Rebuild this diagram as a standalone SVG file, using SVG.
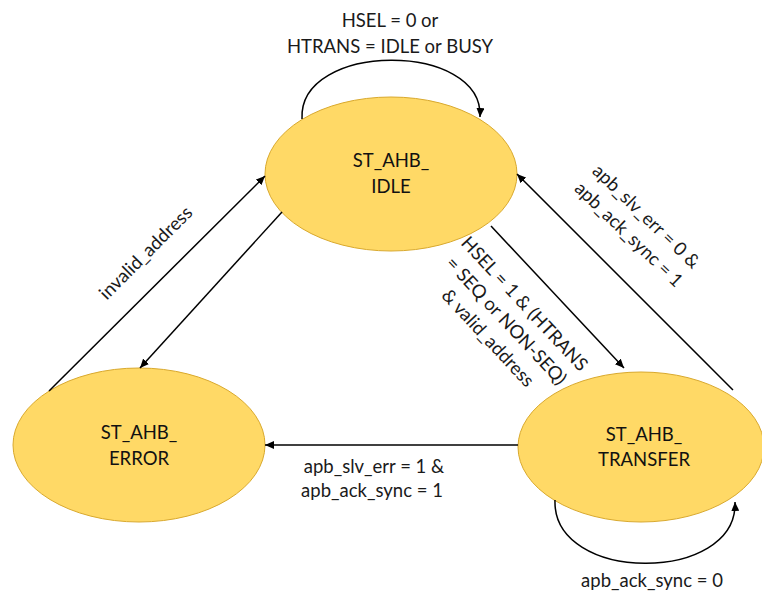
<svg xmlns="http://www.w3.org/2000/svg" width="762" height="592" viewBox="0 0 762 592">
  <style>
    .state { fill: #FFD966; stroke: #D9A92E; stroke-width: 1; }
    .name { font-family: Lato, "Liberation Sans", sans-serif; font-size: 18.5px; fill: #111; text-anchor: middle; }
    .lbl { font-family: Lato, "Liberation Sans", sans-serif; font-size: 18.5px; fill: #1a1a1a; text-anchor: middle; }
    .edge { fill: none; stroke: #000; stroke-width: 1.5; marker-end: url(#head); }
  </style>
  <defs>
    <marker id="head" markerUnits="userSpaceOnUse" markerWidth="10" markerHeight="8" refX="9" refY="4" orient="auto">
      <path d="M0,0 L9,4 L0,8 z" fill="#000"/>
    </marker>
  </defs>
  <rect width="762" height="592" fill="#fff"/>

  <!-- states -->
  <g id="st_ahb_idle">
    <ellipse class="state" cx="391" cy="174" rx="126" ry="77"/>
    <text class="name" x="391" y="167">ST_AHB_</text>
    <text class="name" x="391" y="193">IDLE</text>
  </g>
  <g id="st_ahb_error">
    <ellipse class="state" cx="139" cy="445" rx="126" ry="77"/>
    <text class="name" x="139" y="439">ST_AHB_</text>
    <text class="name" x="139" y="465">ERROR</text>
  </g>
  <g id="st_ahb_transfer">
    <ellipse class="state" cx="641" cy="447" rx="123" ry="75"/>
    <text class="name" x="644" y="441">ST_AHB_</text>
    <text class="name" x="644" y="466">TRANSFER</text>
  </g>

  <!-- transitions -->
  <g id="connectors">
    <path class="edge" d="M302,119 C298,41 484,41 480,117"/>
    <path class="edge" d="M491,226 L624,368"/>
    <path class="edge" d="M733,390 L517,174"/>
    <path class="edge" d="M49,391 L265,176"/>
    <path class="edge" d="M282,212 L140,368"/>
    <path class="edge" d="M518,445 L265,445"/>
    <path class="edge" d="M555,500 C552,584 738,584 735,502"/>
  </g>

  <!-- transition labels -->
  <g id="labels">
    <text class="lbl" x="390" y="27">HSEL = 0 or</text>
    <text class="lbl" x="390" y="53">HTRANS = IDLE or BUSY</text>

    <text class="lbl" transform="translate(146,253) rotate(-45)" x="0" y="6">invalid_address</text>

    <g transform="translate(637,226) rotate(44)">
      <text class="lbl" x="0" y="-7">apb_slv_err = 0 &amp;</text>
      <text class="lbl" x="0" y="18">apb_ack_sync = 1</text>
    </g>

    <g transform="translate(506,321) rotate(47)">
      <text class="lbl" x="0" y="-19">HSEL = 1 &amp; (HTRANS</text>
      <text class="lbl" x="0" y="6">= SEQ or NON-SEQ)</text>
      <text class="lbl" x="0" y="31">&amp; valid_address</text>
    </g>

    <text class="lbl" x="374" y="473">apb_slv_err = 1 &amp;</text>
    <text class="lbl" x="372" y="497">apb_ack_sync = 1</text>

    <text class="lbl" x="652" y="587">apb_ack_sync = 0</text>
  </g>
</svg>
